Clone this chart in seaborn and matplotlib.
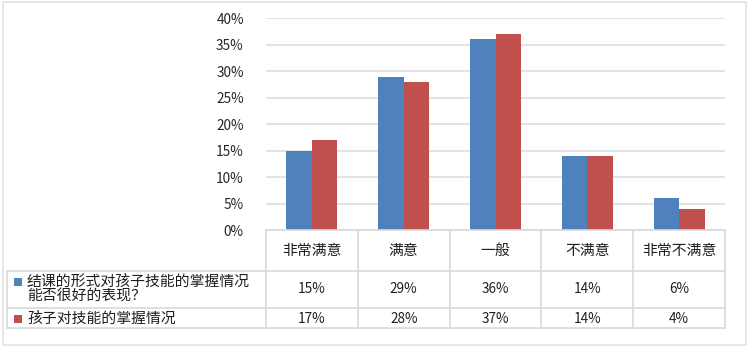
import matplotlib
matplotlib.use("Agg")
import matplotlib.pyplot as plt
from matplotlib.patches import Rectangle
from matplotlib.lines import Line2D
import matplotlib.transforms as mtransforms
import seaborn as sns
import pandas as pd

categories = ["非常满意", "满意", "一般", "不满意", "非常不满意"]
series_names = ["结课的形式对孩子技能的掌握情况\n能否很好的表现？", "孩子对技能的掌握情况"]
series_a = [15, 29, 36, 14, 6]
series_b = [17, 28, 37, 14, 4]
y_ticks = [0, 5, 10, 15, 20, 25, 30, 35, 40]
colors = ["#4F81BD", "#C0504D"]

sns.set_style("white")
plt.rcParams["font.family"] = ["Noto Sans CJK SC", "DejaVu Sans"]

W, H = 748, 347
fig = plt.figure(figsize=(W / 100, H / 100), dpi=100)
fig.patch.set_facecolor("white")

def fx(px):
    return px / W

def fy(py):
    return 1 - py / H

ax_left, ax_right, ax_top, ax_bottom = 266, 725, 18.3, 230
ax = fig.add_axes([fx(ax_left), fy(ax_bottom), (ax_right - ax_left) / W, (ax_bottom - ax_top) / H])

df = pd.DataFrame({
    "cat": categories * 2,
    "val": series_a + series_b,
    "series": [series_names[0]] * len(categories) + [series_names[1]] * len(categories),
})
sns.barplot(data=df, x="cat", y="val", hue="series", palette=colors, width=0.555,
            ax=ax, legend=False, saturation=1, edgecolor="none", linewidth=0, zorder=3)

ax.set_ylim(0, 40)
ax.set_xlim(-0.5, len(categories) - 0.5)
ax.set_yticks(y_ticks)
ax.set_yticklabels([f"{t}%" for t in y_ticks], fontsize=9.8, color="#262626")
ax.tick_params(axis="y", length=0, pad=16)
ax.set_xticks([])
ax.set_xlabel("")
ax.set_ylabel("")
ax.yaxis.grid(True, color="#DEDEDE", linewidth=1.2, zorder=0)
ax.set_axisbelow(True)
for s in ax.spines.values():
    s.set_visible(False)

grid_c = "#D9D9D9"
text_c = "#1F1F1F"

# Table lines
def hline(y, x0, x1):
    fig.add_artist(Line2D([fx(x0), fx(x1)], [fy(y), fy(y)], transform=fig.transFigure,
                          color=grid_c, linewidth=1.2))

row_top, row1, row2, row_bot = 230, 270.5, 308, 328
left_edge = 7
hline(row_top, ax_left, ax_right)
hline(row1, left_edge, ax_right)
hline(row2, left_edge, ax_right)
hline(row_bot, left_edge, ax_right)

blend = mtransforms.blended_transform_factory(ax.transData, fig.transFigure)
for i in range(len(categories) + 1):
    xb = i - 0.5
    fig.add_artist(Line2D([xb, xb], [fy(row_top), fy(row_bot)], transform=blend,
                          color=grid_c, linewidth=1.2))
fig.add_artist(Line2D([fx(left_edge), fx(left_edge)], [fy(row1), fy(row_bot)],
                      transform=fig.transFigure, color=grid_c, linewidth=1.2))

# Header labels
for i, c in enumerate(categories):
    fig.text(i, fy(250.5), c, transform=blend, ha="center", va="center",
             fontsize=10.7, color=text_c)

# Values
for i, (a, b) in enumerate(zip(series_a, series_b)):
    fig.text(i, fy(289), f"{a}%", transform=blend, ha="center", va="center",
             fontsize=9.8, color=text_c)
    fig.text(i, fy(319), f"{b}%", transform=blend, ha="center", va="center",
             fontsize=9.8, color=text_c)

# Row labels with legend keys
row_line_ys = [[282, 297], [319]]
for name, col, ys in zip(series_names, colors, row_line_ys):
    sq = 8
    fig.add_artist(Rectangle((fx(14), fy(ys[0] + sq / 2)), sq / W, sq / H,
                             transform=fig.transFigure, facecolor=col, edgecolor="none"))
    for line, yy in zip(name.split("\n"), ys):
        fig.text(fx(27), fy(yy), line, ha="left", va="center", fontsize=10.7, color=text_c)

# Outer chart border
fig.add_artist(Rectangle((fx(2.5), fy(344.5)), (745.5 - 2.5) / W, (344.5 - 1.5) / H,
                         transform=fig.transFigure, facecolor="none",
                         edgecolor="#E3E3E3", linewidth=1.2))

fig.savefig("out.png", dpi=100)
